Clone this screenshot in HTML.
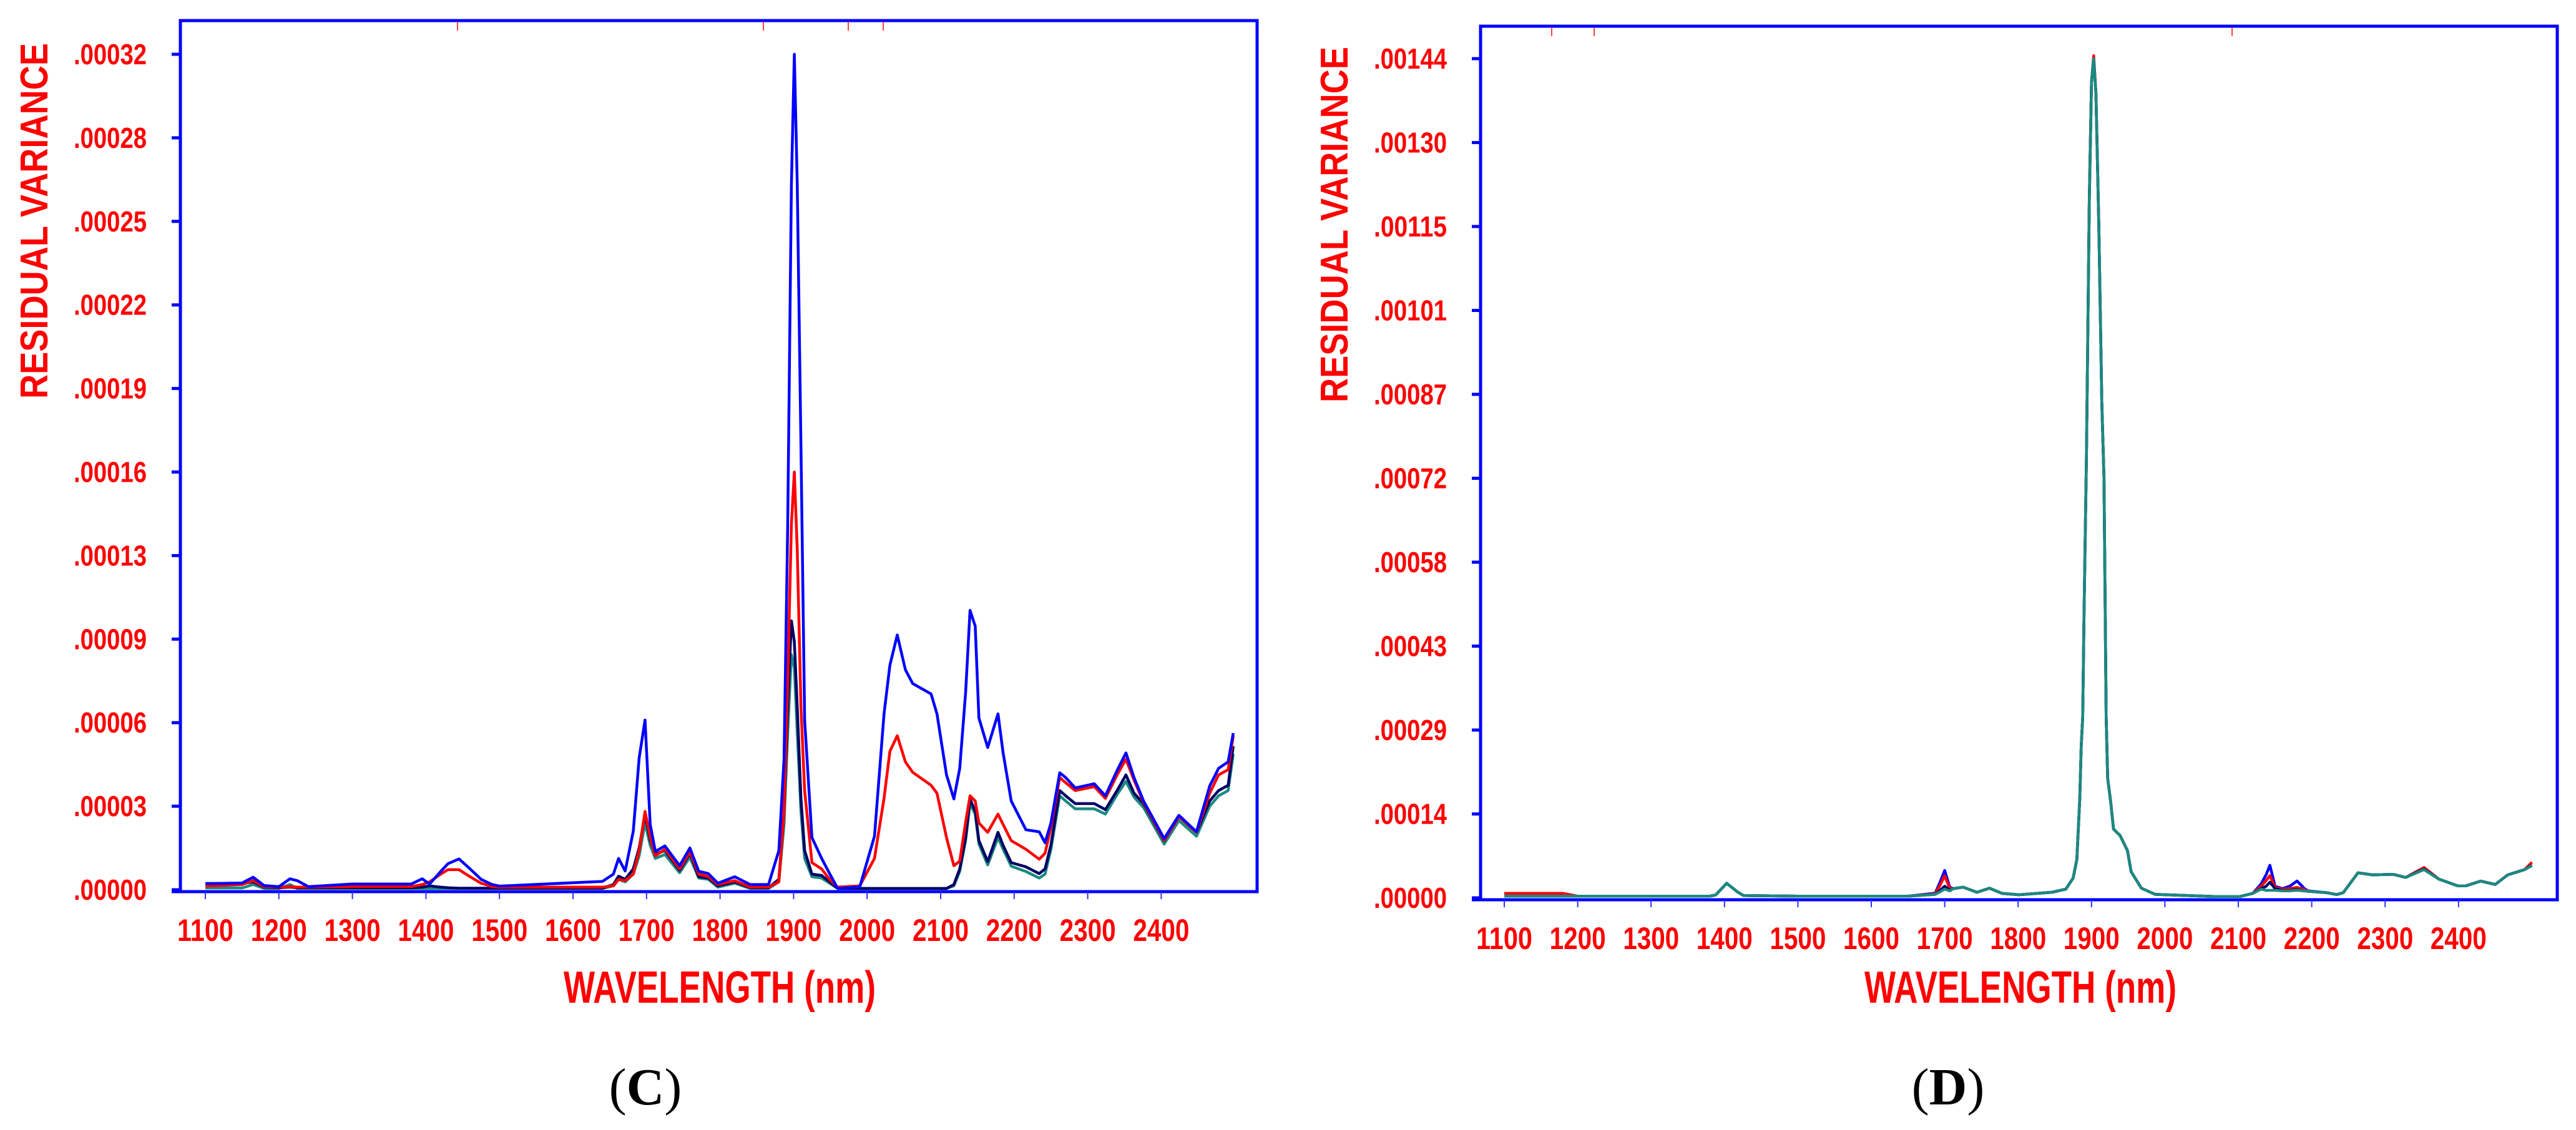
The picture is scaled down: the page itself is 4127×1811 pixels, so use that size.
<!DOCTYPE html>
<html><head><meta charset="utf-8">
<style>
html,body{margin:0;padding:0;background:#fff;}
svg{display:block;}
.sans{font-family:"Liberation Sans",sans-serif;}
</style></head>
<body>
<svg id="fig" width="4127" height="1811" viewBox="0 0 4127 1811" xmlns="http://www.w3.org/2000/svg">
<rect x="0" y="0" width="4127" height="1811" fill="#fff"/>
</svg>
<script>
// ---------- Panel C data (units of 1e-5) ----------
const wlC = [1100,1110,1150,1165,1180,1200,1215,1225,1240,1300,1380,1395,1405,1420,1430,1445,1460,1475,1490,1500,1640,1655,1662,1671,1682,1690,1698,1705,1712,1725,1745,1759,1771,1784,1797,1820,1841,1866,1880,1887,1892,1897,1901,1905,1910,1915,1925,1938,1949,1960,1990,2010,2023,2031,2041,2052,2062,2087,2095,2108,2118,2126,2134,2140,2147,2152,2164,2178,2185,2196,2216,2234,2242,2250,2262,2270,2283,2309,2324,2340,2352,2363,2376,2404,2424,2448,2466,2478,2491,2498];
const blueC = [0.24,0.24,0.26,0.48,0.16,0.12,0.42,0.35,0.12,0.22,0.22,0.42,0.22,0.7,1.0,1.18,0.8,0.4,0.2,0.14,0.32,0.6,1.2,0.72,2.25,5.05,6.5,2.5,1.47,1.68,0.92,1.6,0.71,0.62,0.25,0.5,0.2,0.2,1.5,5,14,27,32,27,17,6.5,2.0,1.21,0.62,0.05,0.11,2.05,6.74,8.6,9.76,8.43,7.9,7.5,6.74,4.4,3.48,4.65,7.58,10.7,10.1,6.58,5.45,6.74,5.24,3.4,2.3,2.22,1.8,2.56,4.48,4.3,3.9,4.06,3.6,4.57,5.24,4.3,3.4,1.96,2.85,2.22,3.98,4.65,4.9,6.0];
const redC = [0.15,0.15,0.2,0.35,0.12,0.1,0.12,0.1,0.1,0.12,0.12,0.2,0.3,0.6,0.77,0.77,0.5,0.25,0.12,0.1,0.1,0.15,0.4,0.35,0.6,1.5,3.0,2.0,1.3,1.55,0.8,1.45,0.6,0.5,0.2,0.35,0.1,0.1,0.3,3,8,14,16,13,7,3.8,1.04,0.8,0.4,0.1,0.15,1.2,3.5,5.3,5.9,4.9,4.5,4.0,3.7,2.0,0.92,1.1,2.6,3.6,3.4,2.56,2.2,2.9,2.5,1.88,1.55,1.17,1.4,2.4,4.3,4.1,3.8,3.95,3.5,4.4,5.0,4.2,3.35,1.9,2.8,2.2,3.7,4.4,4.6,5.9];
const navyC = [0.24,0.24,0.24,0.3,0.1,0.08,0.1,0.08,0.08,0.08,0.08,0.1,0.15,0.1,0.08,0.06,0.06,0.06,0.06,0.06,0.06,0.2,0.52,0.4,0.8,1.6,2.9,1.9,1.37,1.5,0.75,1.4,0.5,0.45,0.15,0.3,0.08,0.08,0.4,3,7,10.3,9.5,7,3.5,1.5,0.6,0.55,0.3,0.05,0.05,0.05,0.05,0.05,0.05,0.05,0.05,0.05,0.05,0.05,0.2,0.8,2.0,3.48,3.0,1.88,1.08,2.2,1.7,1.04,0.88,0.62,0.8,1.72,3.8,3.6,3.3,3.3,3.07,3.8,4.4,3.7,3.3,1.88,2.8,2.2,3.4,3.8,4.0,5.5];
const tealC = [0.07,0.07,0.07,0.2,0.05,0.05,0.2,0.05,0.05,0.05,0.05,0.05,0.05,0.05,0.05,0.05,0.05,0.05,0.05,0.05,0.05,0.15,0.4,0.3,0.6,1.3,2.56,1.7,1.2,1.35,0.65,1.25,0.45,0.4,0.1,0.25,0.05,0.05,0.3,2.5,6,9.0,8.5,6,3,1.2,0.5,0.45,0.25,0.05,0.05,0.05,0.05,0.05,0.05,0.05,0.05,0.05,0.05,0.05,0.15,0.7,1.9,3.3,2.9,1.75,0.95,2.0,1.55,0.9,0.7,0.45,0.6,1.55,3.6,3.4,3.1,3.1,2.9,3.65,4.15,3.55,3.15,1.75,2.65,2.05,3.2,3.6,3.8,5.2];
const yTicksC = [".00000",".00003",".00006",".00009",".00013",".00016",".00019",".00022",".00025",".00028",".00032"];

// ---------- Panel D data (units of 1e-5) ----------
const wlD = [1100,1110,1160,1180,1200,1380,1388,1403,1418,1426,1500,1650,1687,1693,1700,1707,1712,1725,1744,1761,1778,1801,1846,1865,1875,1880,1884,1886,1888,1890,1893,1897,1900,1903,1906,1910,1914,1917,1919,1920,1922,1926,1930,1939,1949,1954,1968,1987,2066,2102,2120,2131,2138,2143,2150,2160,2170,2180,2190,2195,2220,2234,2243,2263,2283,2311,2328,2353,2373,2399,2410,2430,2450,2467,2490,2500];
const tealD = [0.3,0.3,0.3,0.3,0.3,0.3,0.5,2.5,1.0,0.4,0.3,0.3,0.6,1.0,1.5,1.2,1.6,1.84,0.96,1.66,0.78,0.53,0.96,1.5,3.4,6.6,17,26,31,50,75,120,140,144,138,115,85,72,45,31,20.5,16.6,11.8,10.7,8.1,4.5,1.66,0.6,0.24,0.24,0.78,1.5,1.3,1.3,1.3,1.2,1.2,1.3,1.2,1.13,0.9,0.57,0.9,4.3,3.95,4.05,3.5,4.85,3.24,2.07,2.07,2.88,2.3,3.95,4.85,5.55];
const navyD = [0.3,0.3,0.3,0.3,0.3,0.3,0.5,2.5,1.0,0.4,0.3,0.3,0.6,1.2,2.0,1.3,1.6,1.84,0.96,1.66,0.78,0.53,0.96,1.5,3.4,6.6,17,26,31,50,75,120,140,144,138,115,85,72,45,31,20.5,16.6,11.8,10.7,8.1,4.5,1.66,0.6,0.24,0.24,0.78,1.6,2.0,2.7,1.6,1.3,1.3,1.4,1.2,1.13,0.9,0.57,0.9,4.3,3.95,4.05,3.5,4.95,3.24,2.07,2.07,2.88,2.3,3.95,4.85,5.6];
const redD = [0.77,0.77,0.77,0.77,0.3,0.3,0.5,2.5,1.0,0.4,0.3,0.3,0.7,2.0,3.8,1.6,1.6,1.84,0.96,1.66,0.78,0.53,0.96,1.5,3.4,6.6,17,26,31,50,75,120,140,144.5,138,115,85,72,45,31,20.5,16.6,11.8,10.7,8.1,4.5,1.66,0.6,0.24,0.24,0.78,2.0,3.0,3.8,1.8,1.5,1.6,1.8,1.4,1.13,0.9,0.57,0.9,4.3,3.95,4.05,3.5,5.2,3.24,2.07,2.07,2.88,2.3,3.95,4.85,6.1];
const blueD = [0.3,0.3,0.3,0.3,0.3,0.3,0.5,2.5,1.0,0.4,0.3,0.3,0.8,2.5,4.7,1.8,1.6,1.84,0.96,1.66,0.78,0.53,0.96,1.5,3.4,6.6,17,26,31,50,75,120,140,144,138,115,85,72,45,31,20.5,16.6,11.8,10.7,8.1,4.5,1.66,0.6,0.24,0.24,0.78,2.4,4.0,5.6,2.0,1.6,2.0,2.9,1.6,1.2,0.9,0.57,0.9,4.3,3.95,4.05,3.5,5.2,3.24,2.07,2.07,2.88,2.3,3.95,4.85,5.55];
const yTicksD = [".00000",".00014",".00029",".00043",".00058",".00072",".00087",".00101",".00115",".00130",".00144"];

const xTickLabels = ["1100","1200","1300","1400","1500","1600","1700","1800","1900","2000","2100","2200","2300","2400"];
const xTickValues = [1100,1200,1300,1400,1500,1600,1700,1800,1900,2000,2100,2200,2300,2400];

const NS = "http://www.w3.org/2000/svg";
const svg = document.getElementById('fig');
function mk(tag, attrs, parent){ const e=document.createElementNS(NS,tag); for(const k in attrs) e.setAttribute(k,attrs[k]); (parent||svg).appendChild(e); return e; }

function drawPanel(p){
  const g = mk('g',{});
  
  
  const xs = nm => p.x1100 + (nm-1100)*p.pxPer100/100;
  const ys = v => p.y0 - v*(p.y0-p.yTop)/p.vMax;

  const frame = mk('rect',{x:p.left,y:p.top,width:p.right-p.left,height:p.bottom-p.top,fill:'none',stroke:'#0000ff','stroke-width':5},g);
  
  
  p.topMarks.forEach(x=>{ const m=mk('line',{x1:x,y1:p.top+2,x2:x,y2:p.top+16,stroke:'#ff4040','stroke-width':2},g);
    
     });

  p.yLabels.forEach((lab,i)=>{
    const y = ys(p.vMax*i/(p.yLabels.length-1));
    const t = mk('line',{x1:p.left-14,y1:y,x2:p.left,y2:y,stroke:'#0000ff','stroke-width':5},g);
    
    
    const tx = mk('text',{class:'sans',x:p.left-54,y:y+16,'text-anchor':'end','font-size':46,'font-weight':'bold',fill:'#ff0000',textLength:117,lengthAdjust:'spacingAndGlyphs'},g);
    tx.textContent = lab;
    
    
  });
  mk('line',{x1:p.left-14,y1:p.bottom,x2:p.left,y2:p.bottom,stroke:'#0000ff','stroke-width':5},g);
  xTickValues.forEach((v,i)=>{
    const x = xs(v);
    const t = mk('line',{x1:x,y1:p.bottom,x2:x,y2:p.bottom+12,stroke:'#3030ff','stroke-width':2},g);
    
    
    const tx = mk('text',{class:'sans',x:x,y:p.bottom+79,'text-anchor':'middle','font-size':50,'font-weight':'bold',fill:'#ff0000',textLength:90,lengthAdjust:'spacingAndGlyphs'},g);
    tx.textContent = xTickLabels[i];
    
    
  });
  const yt = mk('text',{class:'sans',x:0,y:0,transform:`translate(${p.yTitleX},${p.yTitleY}) rotate(-90)`,'text-anchor':'middle','font-size':62,'font-weight':'bold',fill:'#ff0000',textLength:570,lengthAdjust:'spacingAndGlyphs'},g);
  yt.textContent = 'RESIDUAL  VARIANCE';
  
  
  const xt = mk('text',{class:'sans',x:p.xTitleX,y:1607,'text-anchor':'middle','font-size':72,'font-weight':'bold',fill:'#ff0000',textLength:500,lengthAdjust:'spacingAndGlyphs'},g);
  xt.textContent = 'WAVELENGTH (nm)';
  
  
  const cap = mk('text',{x:p.capX,y:1770,'text-anchor':'middle','font-size':84,fill:'#000',style:'font-family:"Liberation Serif",serif'},g);
  const t1 = mk('tspan',{},cap); t1.textContent='(';
  const t2 = mk('tspan',{'font-weight':'bold'},cap); t2.textContent=p.letter;
  const t3 = mk('tspan',{},cap); t3.textContent=')';
  
  

  p.series.forEach(s=>{
    const d = p.wl.map((w,i)=>(i?'L':'M')+xs(w).toFixed(1)+','+ys(s.vals[i]).toFixed(1)).join(' ');
    const path = mk('path',{d:d,fill:'none',stroke:s.color,'stroke-width':4.5,'stroke-linejoin':'round'},g);
    
    
  });
}

drawPanel({name:'panel-c',letter:'C',left:289,top:33,right:2014,bottom:1429,x1100:329,pxPer100:117.8,y0:1426,yTop:87,vMax:32,
  yLabels:yTicksC,topMarks:[733,1223,1359,1415],yTitleX:76,yTitleY:354,xTitleX:1153,capX:1034,wl:wlC,
  series:[{name:'series-teal',color:'#1a8a80',vals:tealC},{name:'series-navy',color:'#000066',vals:navyC},{name:'series-red',color:'#ff0000',vals:redC},{name:'series-blue',color:'#0000ff',vals:blueC}]});
drawPanel({name:'panel-d',letter:'D',left:2372,top:42,right:4097,bottom:1442,x1100:2410,pxPer100:117.6,y0:1439,yTop:94,vMax:144,
  yLabels:yTicksD,topMarks:[2486,2554,3576],yTitleX:2159,yTitleY:360,xTitleX:3237,capX:3121,wl:wlD,
  series:[{name:'series-blue',color:'#0000ff',vals:blueD},{name:'series-red',color:'#ff0000',vals:redD},{name:'series-navy',color:'#000066',vals:navyD},{name:'series-teal',color:'#1a8a80',vals:tealD}]});
</script>
</body></html>
